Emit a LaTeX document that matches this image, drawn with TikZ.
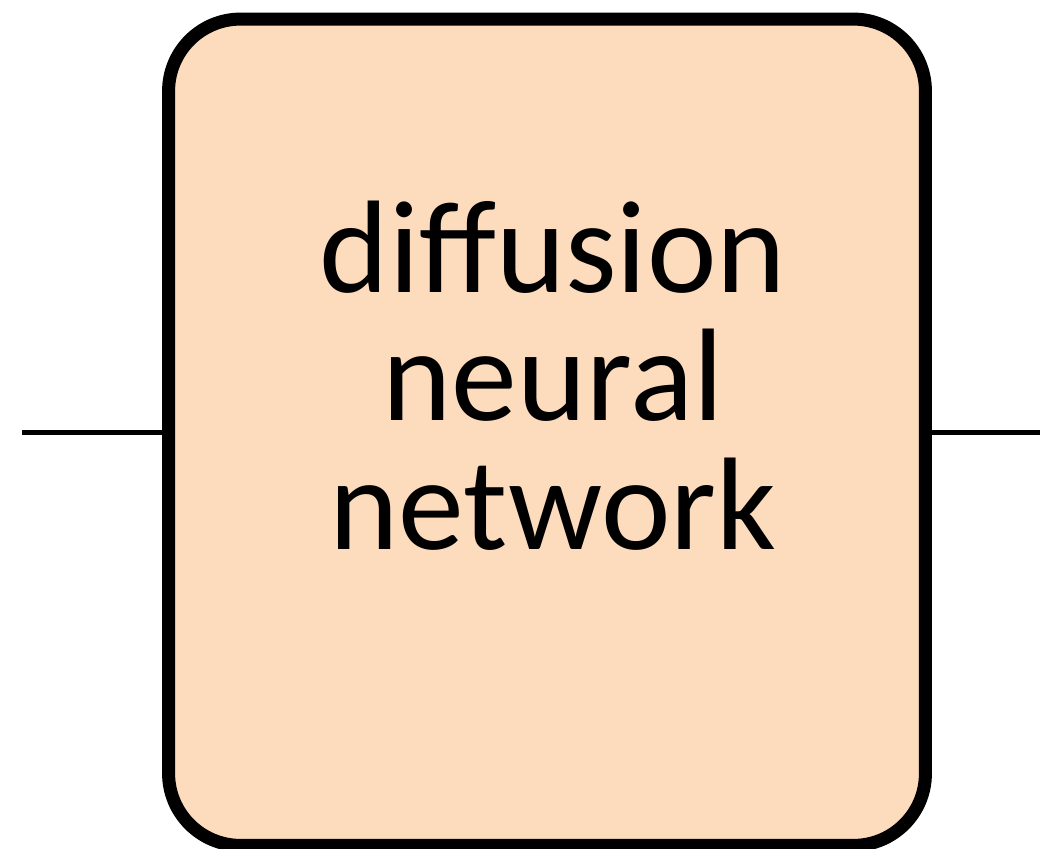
\documentclass[tikz,border=0pt]{standalone}
\usepackage{fontspec}
\setmainfont{Carlito}
\usetikzlibrary{positioning}
\definecolor{peach}{RGB}{253,219,189}

\begin{document}
\begin{tikzpicture}[
    x=0.02cm, y=-0.02cm,
    block/.style={draw, line width=7.4pt, fill=peach, rounded corners=1.44cm,
        minimum width=15.14cm, minimum height=16.53cm, inner sep=0pt},
    txt/.style={align=center, inner sep=0pt, font=\fontsize{75}{73}\selectfont},
    wire/.style={line width=2.8pt}
]
\useasboundingbox (0,0) rectangle (1040,848);
\begin{scope}
\clip (0,0) rectangle (1040,848);
\node[block] (nn) at (547,432.25) {};
% base anchor sits on the last line
\node[txt, anchor=base] (label) at (553,549) {diffusion\\neural\\network};

\coordinate (in) at (22,432.25);
\coordinate (out) at (1040,432.25);
\draw[wire] (in) -- (nn.west);
\draw[wire] (nn.east) -- (out);
\end{scope}
\end{tikzpicture}
\end{document}
